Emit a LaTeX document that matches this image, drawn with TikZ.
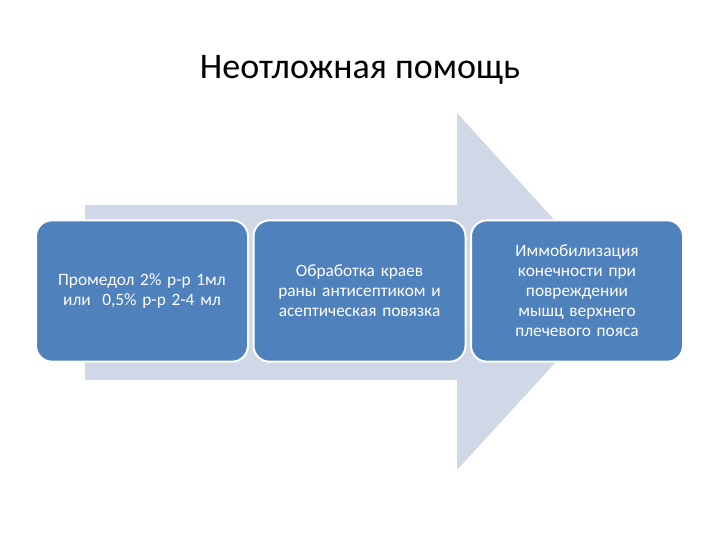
\documentclass[tikz,border=0pt]{standalone}
\usepackage{fontspec}
\setmainfont{Carlito}
\definecolor{boxblue}{RGB}{79,129,189}
\definecolor{arrowgrey}{RGB}{208,216,232}
\begin{document}
\begin{tikzpicture}[x=0.75pt,y=-0.75pt,
  box/.style={draw=white,line width=1.5pt,fill=boxblue,rounded corners=12pt,minimum width=159pt,minimum height=106pt,text width=145pt,align=center,text=white,font=\fontsize{13}{15}\selectfont}]
\useasboundingbox (0,0) rectangle (720,540);
\fill[arrowgrey] (85,205) -- (457,205) -- (457,113) -- (620,292) -- (457,470) -- (457,380) -- (85,380) -- cycle;
\node[font=\fontsize{27}{30}\selectfont] (title) at (360,70) {Неотложная помощь};
\node[box] (b1) at (142,291) {Промедол 2\% р-р 1мл или \ 0,5\% р-р 2-4 мл};
\node[box] (b2) at (359.5,291) {Обработка краев раны антисептиком и асептическая повязка};
\node[box] (b3) at (577,291) {Иммобилизация конечности при повреждении мышц верхнего плечевого пояса};
\end{tikzpicture}
\end{document}
